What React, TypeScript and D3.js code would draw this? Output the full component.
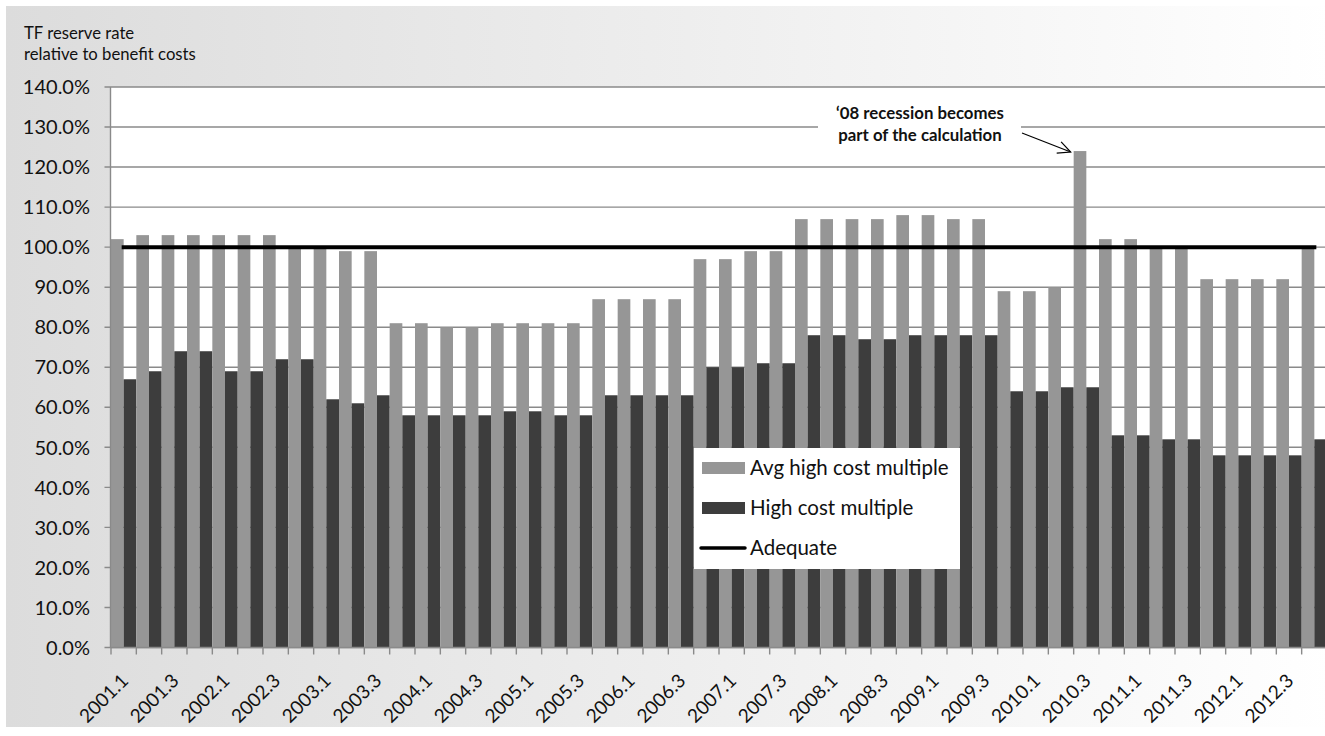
import React from "react";
import * as d3 from "d3";

// Quarterly trust fund reserve multiples, 2001.1 – 2012.4
const quarters = [
  "2001.1", "2001.2", "2001.3", "2001.4",
  "2002.1", "2002.2", "2002.3", "2002.4",
  "2003.1", "2003.2", "2003.3", "2003.4",
  "2004.1", "2004.2", "2004.3", "2004.4",
  "2005.1", "2005.2", "2005.3", "2005.4",
  "2006.1", "2006.2", "2006.3", "2006.4",
  "2007.1", "2007.2", "2007.3", "2007.4",
  "2008.1", "2008.2", "2008.3", "2008.4",
  "2009.1", "2009.2", "2009.3", "2009.4",
  "2010.1", "2010.2", "2010.3", "2010.4",
  "2011.1", "2011.2", "2011.3", "2011.4",
  "2012.1", "2012.2", "2012.3", "2012.4",
];

const avgHighCostMultiple = [
  102, 103, 103, 103, 103, 103, 103, 100, 100, 99, 99, 81,
  81, 80, 80, 81, 81, 81, 81, 87, 87, 87, 87, 97,
  97, 99, 99, 107, 107, 107, 107, 108, 108, 107, 107, 89,
  89, 90, 124, 102, 102, 100, 100, 92, 92, 92, 92, 100,
];

const highCostMultiple = [
  67, 69, 74, 74, 69, 69, 72, 72, 62, 61, 63, 58,
  58, 58, 58, 59, 59, 58, 58, 63, 63, 63, 63, 70,
  70, 71, 71, 78, 78, 77, 77, 78, 78, 78, 78, 64,
  64, 65, 65, 53, 53, 52, 52, 48, 48, 48, 48, 52,
];

const adequateLevel = 100;

const yTicks = [0, 10, 20, 30, 40, 50, 60, 70, 80, 90, 100, 110, 120, 130, 140];

const seriesNames = ["Avg high cost multiple", "High cost multiple", "Adequate"];
const titleLines = ["TF reserve rate", "relative to benefit costs"];
const noteLines = ["\u201808 recession becomes", "part of the calculation"];
const noteQuarter = "2010.3";

const W = 1325;
const H = 736;
const FONT = "Lato, 'Open Sans', sans-serif";
const GRAY = "#969696";
const DARK = "#3d3d3d";
const GRID = "#8a8a8a";

export default function App() {
  const left = 110.5;
  const right = 1327;
  const top = 87;
  const bottom = 647.5;

  const x = d3.scaleBand<string>().domain(quarters).range([left + 0.5, right]).padding(0);
  const bw = x.bandwidth();
  const y = d3.scaleLinear().domain([0, 140]).range([bottom, top]);
  const fmt = d3.format(".1f");

  const lineGen = d3
    .line<string>()
    .x((q) => (x(q) as number) + bw / 2)
    .y(() => y(adequateLevel));
  const adequatePath = lineGen([quarters[0], quarters[quarters.length - 1]]) || "";

  // arrow pointing at the 2010.3 average bar
  const noteIdx = quarters.indexOf(noteQuarter);
  const tipX = (x(noteQuarter) as number) - 3;
  const tipY = y(avgHighCostMultiple[noteIdx]) + 1;
  const startX = 1022;
  const startY = 133;
  const ang = Math.atan2(tipY - startY, tipX - startX);
  const headLen = 14;
  const headA = Math.PI / 7;
  const h1 = [tipX - headLen * Math.cos(ang - headA), tipY - headLen * Math.sin(ang - headA)];
  const h2 = [tipX - headLen * Math.cos(ang + headA), tipY - headLen * Math.sin(ang + headA)];

  const legendX = 694;
  const legendY = 448;

  return (
    <svg
      width={W}
      height={H}
      style={{ position: "absolute", left: 0, top: 0, display: "block" }}
      fontFamily={FONT}
    >
      <defs>
        <linearGradient id="chartBg" x1="0" x2="1" y1="0" y2="0">
          <stop offset="0" stopColor="#dcdcdc" />
          <stop offset="1" stopColor="#ffffff" />
        </linearGradient>
      </defs>
      <rect x={0} y={0} width={W} height={H} fill="#ffffff" />
      <rect x={6} y={6} width={W} height={721} fill="url(#chartBg)" />

      {/* title */}
      {titleLines.map((t, i) => (
        <text key={t} x={24} y={39 + i * 21} fontSize={16.7} fill="#111">
          {t}
        </text>
      ))}

      {/* plot area */}
      <rect x={left} y={top} width={right - left} height={bottom - top} fill="#ffffff" />

      {/* gridlines */}
      {yTicks.map((t) => (
        <line key={t} x1={left - 6} x2={right} y1={y(t)} y2={y(t)} stroke={GRID} strokeWidth={1.4} />
      ))}
      {yTicks.map((t) => (
        <text
          key={"l" + t}
          x={90}
          y={y(t)}
          dy="0.36em"
          textAnchor="end"
          fontSize={20}
          fill="#111"
        >
          {fmt(t)}%
        </text>
      ))}

      {/* bars */}
      {quarters.map((q, i) => (
        <g key={q}>
          <rect
            x={x(q) as number}
            y={y(avgHighCostMultiple[i])}
            width={bw / 2}
            height={bottom - y(avgHighCostMultiple[i])}
            fill={GRAY}
          />
          <rect
            x={(x(q) as number) + bw / 2}
            y={y(highCostMultiple[i])}
            width={bw / 2}
            height={bottom - y(highCostMultiple[i])}
            fill={DARK}
          />
        </g>
      ))}

      {/* axes */}
      <line x1={left} x2={left} y1={top} y2={bottom} stroke={GRID} strokeWidth={1.4} />
      <line x1={left} x2={right} y1={bottom} y2={bottom} stroke={GRID} strokeWidth={1.4} />
      {quarters.map((q) => (
        <line
          key={"t" + q}
          x1={x(q) as number}
          x2={x(q) as number}
          y1={bottom}
          y2={bottom + 7}
          stroke={GRID}
          strokeWidth={1.4}
        />
      ))}
      {quarters.map((q, i) =>
        i % 2 === 0 ? (
          <text
            key={"x" + q}
            transform={`translate(${(x(q) as number) + bw / 2 + 1},${bottom + 29.5}) rotate(-45)`}
            textAnchor="end"
            dy="0.36em"
            fontSize={19}
            fill="#111"
          >
            {q}
          </text>
        ) : null
      )}

      {/* adequate level */}
      <path d={adequatePath} stroke="#000" strokeWidth={4} strokeLinecap="square" fill="none" />

      {/* annotation */}
      <rect x={818} y={100} width={203} height={50} fill="#ffffff" />
      {noteLines.map((t, i) => (
        <text
          key={t}
          x={920}
          y={119 + i * 22}
          textAnchor="middle"
          fontSize={16.8}
          fontWeight="bold"
          fill="#111"
        >
          {t}
        </text>
      ))}
      <line x1={startX} y1={startY} x2={tipX} y2={tipY} stroke="#000" strokeWidth={1.2} />
      <polyline
        points={`${h1[0]},${h1[1]} ${tipX},${tipY} ${h2[0]},${h2[1]}`}
        fill="none"
        stroke="#000"
        strokeWidth={1.2}
      />

      {/* legend */}
      <rect x={legendX} y={legendY} width={266} height={121} fill="#ffffff" />
      <rect x={legendX + 8} y={legendY + 14} width={43} height={12} fill={GRAY} />
      <rect x={legendX + 8} y={legendY + 54} width={43} height={12} fill={DARK} />
      <line
        x1={legendX + 7}
        x2={legendX + 51}
        y1={legendY + 100}
        y2={legendY + 100}
        stroke="#000"
        strokeWidth={3.5}
        strokeLinecap="round"
      />
      {seriesNames.map((s, i) => (
        <text
          key={s}
          x={legendX + 56}
          y={legendY + 20 + i * 40}
          dy="0.36em"
          fontSize={20.5}
          fill="#111"
        >
          {s}
        </text>
      ))}
    </svg>
  );
}
